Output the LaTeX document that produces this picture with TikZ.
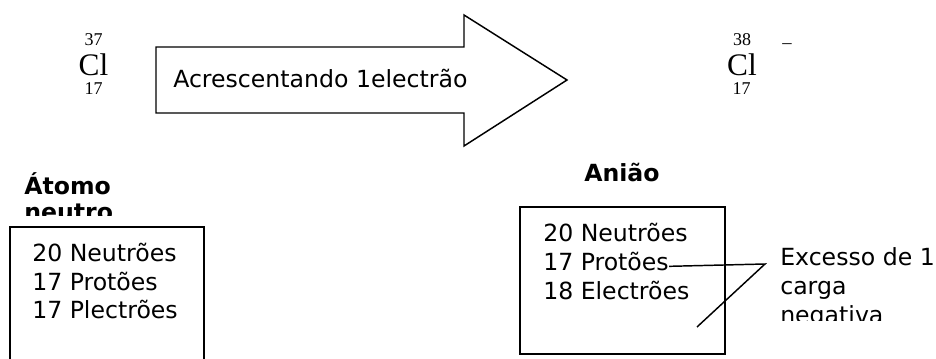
\documentclass[tikz,border=0pt]{standalone}
\usepackage{fontspec}
\setmainfont{DejaVu Sans}
\newfontfamily\clfont{Liberation Serif}
\usetikzlibrary{positioning}

\tikzset{
  txt/.style={anchor=base west, inner sep=0pt, font=\fontsize{17.7}{20}\selectfont},
  head/.style={txt, font=\bfseries\fontsize{17.7}{20}\selectfont},
  elem/.style={anchor=base, inner sep=0pt, font=\clfont\fontsize{23.5}{24}\selectfont},
  nuc/.style={anchor=base, inner sep=0pt, font=\clfont\fontsize{13.5}{14}\selectfont},
  line/.style={line width=1.1pt},
}

\begin{document}
\begin{tikzpicture}[x=0.75pt,y=-0.75pt]
    \useasboundingbox (0,0) rectangle (936,359);

    % cloro neutro
    \node[elem] (cl1) at (93.5,76) {Cl};
    \node[nuc] (a1) at (93.5,46) {37};
    \node[nuc] (z1) at (93.5,95) {17};

    % seta
    \draw[line] (156,47) -- (464,47) -- (464,15) -- (567,80) -- (464,146)
    -- (464,113) -- (156,113) -- cycle;
    \node[txt] (acr) at (173,88) {Acrescentando 1electrão};

    % aniao cloreto
    \node[elem] (cl2) at (742,76) {Cl};
    \node[nuc] (a2) at (742,46) {38};
    \node[nuc] (z2) at (741.5,95) {17};
    \node[inner sep=0pt, font=\clfont\fontsize{14}{14}\selectfont] (q2) at (787,46) {–};

    % atomo neutro
    \begin{scope}
    \clip (0,160) rectangle (300,216);
    \node[head] (atomo) at (24,195) {Átomo};
    \node[head] (neutro) at (24,221) {neutro};
    \end{scope}
    \draw[line] (10,227) rectangle (204,370);
    \node[txt] (n1) at (32,262) {20 Neutrões};
    \node[txt] (p1) at (32,291) {17 Protões};
    \node[txt] (e1) at (32,319) {17 Plectrões};

    % aniao
    \node[head] (aniao) at (584,182) {Anião};
    \draw[line] (520,207) rectangle (725,354);
    \node[txt] (n2) at (543,242) {20 Neutrões};
    \node[txt] (p2) at (543,271) {17 Protões};
    \node[txt] (e2) at (543,300) {18 Electrões};

    % excesso de carga
    \coordinate (apex) at (765,264);
    \coordinate (tail) at (697,327);
    \draw[line] ([yshift=3.5pt]p2.base east) -- (apex) -- (tail);
    \begin{scope}
    \clip (770,240) rectangle (936,321);
    \node[txt] (exc) at (780,266) {Excesso de 1};
    \node[txt] (carga) at (780,295) {carga};
    \node[txt] (neg) at (780,324) {negativa};
    \end{scope}

\end{tikzpicture}
\end{document}
